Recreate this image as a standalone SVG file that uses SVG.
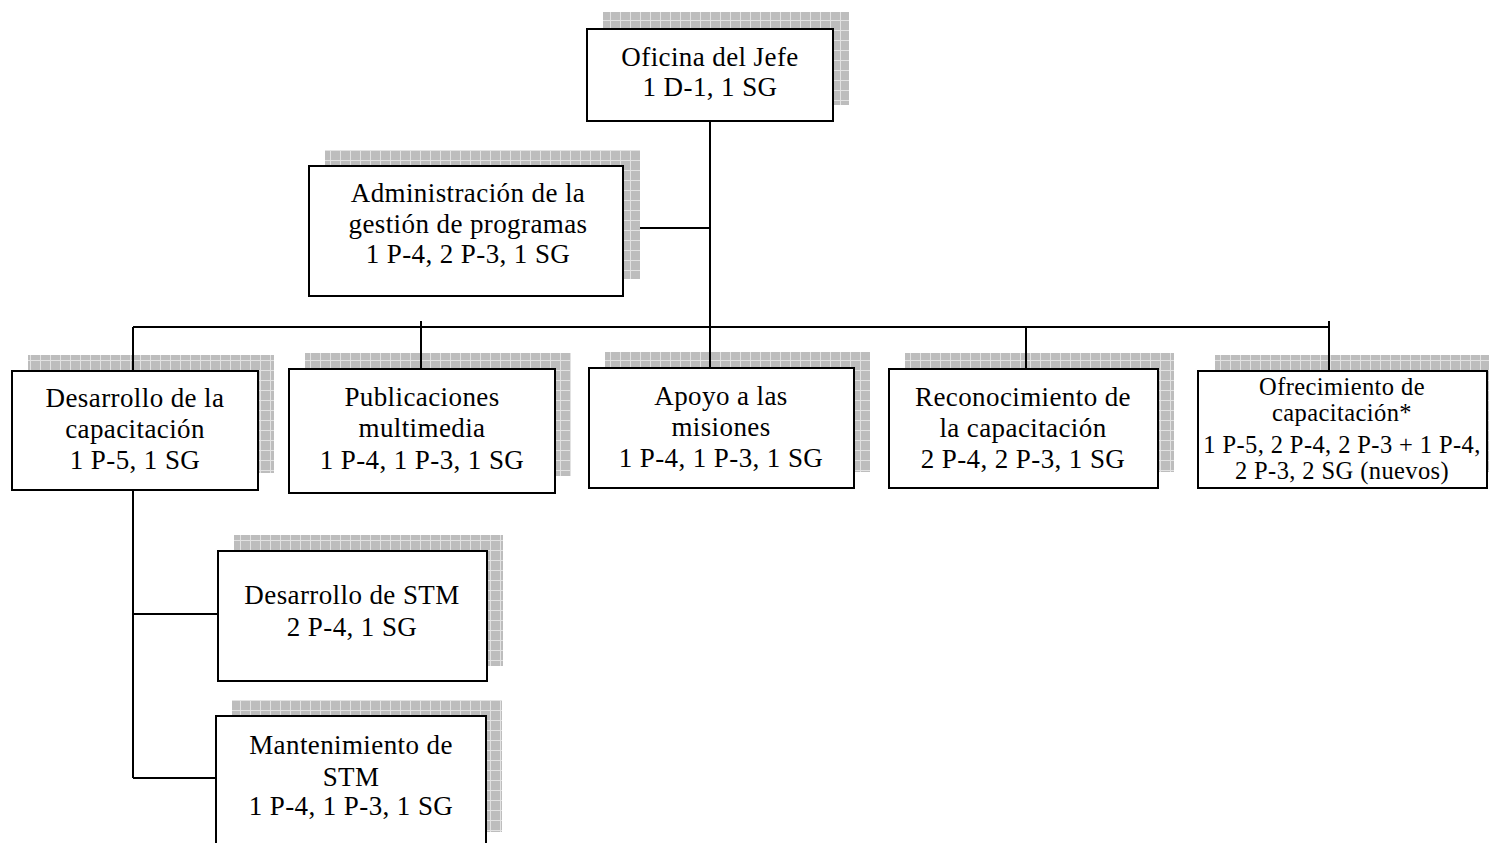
<svg xmlns="http://www.w3.org/2000/svg" width="1489" height="843" viewBox="0 0 1489 843">
<style>
.box{fill:#fff;stroke:#000;stroke-width:2}
.sh{fill:url(#grid)}
text{font-family:"Liberation Serif","Times New Roman",serif;font-size:27px;letter-spacing:0.4px;fill:#000;text-anchor:middle}
.sm{font-size:24.5px;letter-spacing:0.4px}
.con line{stroke:#000;stroke-width:2}
</style>
<defs>
<pattern id="grid" patternUnits="userSpaceOnUse" width="10" height="10">
<rect width="10" height="10" fill="#bdbdbd"/>
<path d="M0 0.5H10M0.5 0V10" stroke="#e2e2e2" stroke-width="1"/>
</pattern>
</defs>
<rect width="1489" height="843" fill="#fff"/>
<g id="oficina">
<rect class="sh" x="603" y="12" width="246" height="93"/>
<rect class="box" x="587" y="29" width="246" height="92"/>
<text x="710" y="66">Oficina del Jefe</text>
<text x="710" y="96">1 D-1, 1 SG</text>
</g>
<g id="admin">
<rect class="sh" x="325" y="150" width="315" height="129"/>
<rect class="box" x="309" y="166" width="314" height="130"/>
<text x="468" y="202">Administración de la</text>
<text x="468" y="233">gestión de programas</text>
<text x="468" y="263">1 P-4, 2 P-3, 1 SG</text>
</g>
<g id="desarrollo">
<rect class="sh" x="28" y="355" width="246" height="118"/>
<rect class="box" x="12" y="371" width="246" height="119"/>
<text x="135" y="407">Desarrollo de la</text>
<text x="135" y="438">capacitación</text>
<text x="135" y="469">1 P-5, 1 SG</text>
</g>
<g id="publicaciones">
<rect class="sh" x="305" y="353" width="266" height="123"/>
<rect class="box" x="289" y="369" width="266" height="124"/>
<text x="422" y="406">Publicaciones</text>
<text x="422" y="437">multimedia</text>
<text x="422" y="469">1 P-4, 1 P-3, 1 SG</text>
</g>
<g id="apoyo">
<rect class="sh" x="605" y="352" width="265" height="120"/>
<rect class="box" x="589" y="368" width="265" height="120"/>
<text x="721" y="405">Apoyo a las</text>
<text x="721" y="436">misiones</text>
<text x="721" y="467">1 P-4, 1 P-3, 1 SG</text>
</g>
<g id="reconocimiento">
<rect class="sh" x="905" y="353" width="269" height="119"/>
<rect class="box" x="889" y="369" width="269" height="119"/>
<text x="1023" y="406">Reconocimiento de</text>
<text x="1023" y="437">la capacitación</text>
<text x="1023" y="468">2 P-4, 2 P-3, 1 SG</text>
</g>
<g id="ofrecimiento">
<rect class="sh" x="1215" y="355" width="280" height="117"/>
<rect class="box" x="1198" y="371" width="289" height="117"/>
<text class="sm" x="1342" y="395">Ofrecimiento de</text>
<text class="sm" x="1342" y="421">capacitación*</text>
<text class="sm" x="1342" y="453">1 P-5, 2 P-4, 2 P-3 + 1 P-4,</text>
<text class="sm" x="1342" y="479">2 P-3, 2 SG (nuevos)</text>
</g>
<g id="desarrollo-stm">
<rect class="sh" x="234" y="535" width="269" height="131"/>
<rect class="box" x="218" y="551" width="269" height="130"/>
<text x="352" y="604">Desarrollo de STM</text>
<text x="352" y="636">2 P-4, 1 SG</text>
</g>
<g id="mantenimiento-stm">
<rect class="sh" x="232" y="700" width="270" height="132"/>
<rect class="box" x="216" y="716" width="270" height="140"/>
<text x="351" y="754">Mantenimiento de</text>
<text x="351" y="786">STM</text>
<text x="351" y="815">1 P-4, 1 P-3, 1 SG</text>
</g>
<g class="con" id="connectors">
<line x1="710" y1="121" x2="710" y2="368"/>
<line x1="640" y1="228" x2="710" y2="228"/>
<line x1="133" y1="327" x2="1329" y2="327"/>
<line x1="133" y1="327" x2="133" y2="371"/>
<line x1="421" y1="321" x2="421" y2="369"/>
<line x1="1026" y1="327" x2="1026" y2="369"/>
<line x1="1329" y1="321" x2="1329" y2="371"/>
<line x1="133" y1="490" x2="133" y2="778"/>
<line x1="133" y1="614" x2="218" y2="614"/>
<line x1="133" y1="778" x2="216" y2="778"/>
</g>
</svg>
